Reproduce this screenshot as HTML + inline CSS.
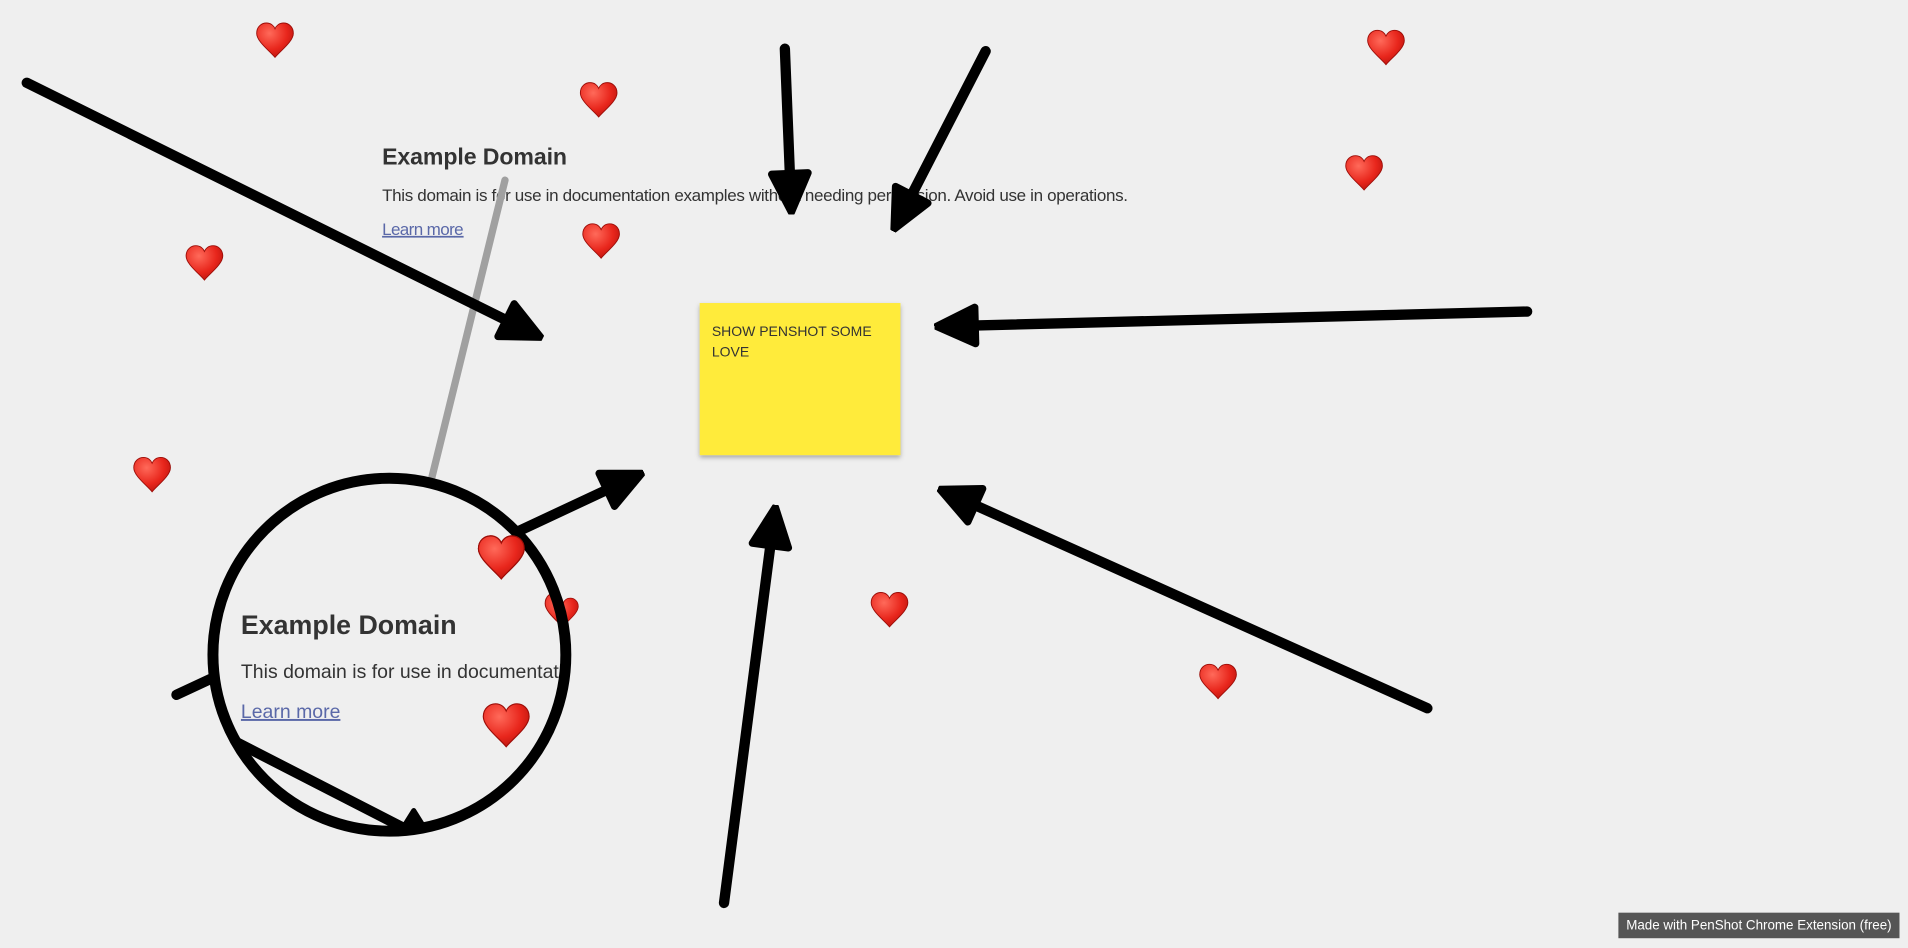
<!DOCTYPE html>
<html><head><meta charset="utf-8"><style>
html,body{margin:0;padding:0;background:#efefef;}
svg{display:block;}
</style></head><body>
<svg width="1908" height="948" viewBox="0 0 1568 779" xmlns="http://www.w3.org/2000/svg">
<defs>
<marker id="ah" viewBox="0 0 10 10" refX="7" refY="5" markerWidth="4.4" markerHeight="4.4" orient="auto" markerUnits="strokeWidth">
<path d="M1,1 L9.5,5 L1,9 Z" fill="#000" stroke="#000" stroke-width="1.6" stroke-linejoin="round"/>
</marker>
<radialGradient id="hg" cx="0.35" cy="0.3" r="0.8"><stop offset="0" stop-color="#ff6a5a"/><stop offset="0.6" stop-color="#e8261c"/><stop offset="1" stop-color="#b5120c"/></radialGradient>
<symbol id="heart" viewBox="-17 -17 34 34" overflow="visible">
<path d="M0,15 C-5,9 -16,1 -16,-6 C-16,-12 -11.5,-15 -7.5,-15 C-3.5,-15 -1,-12.5 0,-10 C1,-12.5 3.5,-15 7.5,-15 C11.5,-15 16,-12 16,-6 C16,1 5,9 0,15 Z" fill="url(#hg)" stroke="#9c0d08" stroke-width="0.8"/>
</symbol>
<clipPath id="cc"><circle cx="320" cy="538" r="145"/></clipPath>
<filter id="sh" x="-10%" y="-10%" width="130%" height="130%"><feDropShadow dx="0" dy="2" stdDeviation="2" flood-color="#000" flood-opacity="0.3"/></filter>
</defs>
<rect width="1568" height="779" fill="#efefef"/>

<g font-family="'Liberation Sans', sans-serif" fill="#333">
<text x="314" y="135" font-size="19" font-weight="bold" textLength="152">Example Domain</text>
<text x="314" y="165" font-size="14" textLength="613">This domain is for use in documentation examples without needing permission. Avoid use in operations.</text>
<text x="314" y="193" font-size="14" fill="#5a68a8" text-decoration="underline" textLength="67">Learn more</text>
</g>

<line x1="415" y1="148" x2="355" y2="392" stroke="#a0a0a0" stroke-width="6" stroke-linecap="round"/>

<g>
<use href="#heart" x="210" y="17" width="32" height="32"/>
<use href="#heart" x="476" y="66" width="32" height="32"/>
<use href="#heart" x="1123" y="23" width="32" height="32"/>
<use href="#heart" x="1105" y="126" width="32" height="32"/>
<use href="#heart" x="152" y="200" width="32" height="32"/>
<use href="#heart" x="478" y="182" width="32" height="32"/>
<use href="#heart" x="109" y="374" width="32" height="32"/>
<use href="#heart" x="715" y="485" width="32" height="32"/>
<use href="#heart" x="985" y="544" width="32" height="32"/>
<use href="#heart" x="450" y="490" width="26" height="26"/>
</g>

<rect x="575" y="249" width="165" height="125" fill="#ffeb3b" filter="url(#sh)"/>
<g font-family="'Liberation Sans', sans-serif" font-size="11.5" fill="#333">
<text x="585" y="276">SHOW PENSHOT SOME</text>
<text x="585" y="293">LOVE</text>
</g>

<g stroke="#000" stroke-width="8.5" stroke-linecap="round" fill="none" marker-end="url(#ah)">
<line x1="22" y1="68" x2="436" y2="273"/>
<line x1="645" y1="40" x2="650" y2="165"/>
<line x1="810" y1="42" x2="739" y2="180"/>
<line x1="1255" y1="256" x2="779" y2="268"/>
<line x1="1173" y1="582" x2="781" y2="406"/>
<line x1="595" y1="742" x2="636" y2="426"/>
<line x1="425" y1="437" x2="519" y2="393"/>
</g>
<line x1="145" y1="571" x2="175" y2="557" stroke="#000" stroke-width="8.5" stroke-linecap="round"/>

<circle cx="320" cy="538" r="145" fill="#efefef"/>
<g clip-path="url(#cc)">
<g font-family="'Liberation Sans', sans-serif" fill="#333">
<text x="198" y="521" font-size="22" font-weight="bold">Example Domain</text>
<text x="198" y="557" font-size="16">This domain is for use in documentation</text>
<text x="198" y="590" font-size="16" fill="#5a68a8" text-decoration="underline">Learn more</text>
</g>
<use href="#heart" x="447" y="485" width="34" height="34"/>
<use href="#heart" x="392" y="438" width="40" height="40"/>
<use href="#heart" x="396" y="576" width="40" height="40"/>
<line x1="175" y1="600" x2="335" y2="682" stroke="#000" stroke-width="8.5" stroke-linecap="round"/>
<path d="M330,682 L340,666 L350,682 Z" fill="#000" stroke="#000" stroke-width="4" stroke-linejoin="round"/>
</g>
<circle cx="320" cy="538" r="145" fill="none" stroke="#000" stroke-width="9"/>
<use href="#heart" x="392" y="438" width="40" height="40"/>

<rect x="1330" y="750" width="231" height="21" fill="#555"/>
<text x="1445.5" y="764" font-family="'Liberation Sans', sans-serif" font-size="11" fill="#fff" text-anchor="middle">Made with PenShot Chrome Extension (free)</text>
</svg>
</body></html>
